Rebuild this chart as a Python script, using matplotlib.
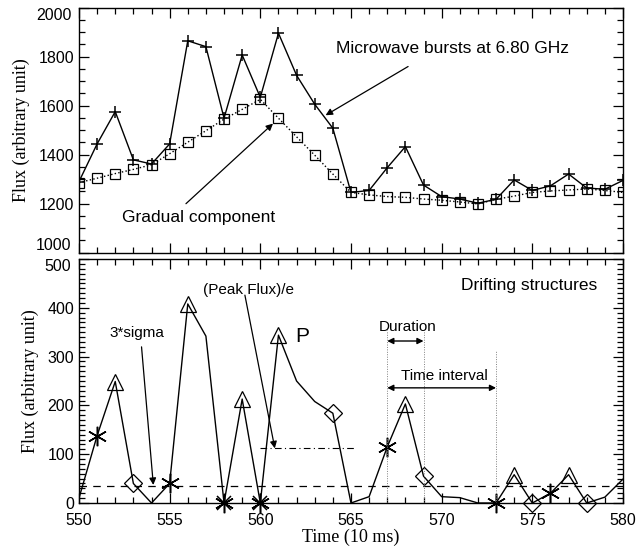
import matplotlib
matplotlib.use("Agg")
import matplotlib.pyplot as plt
from matplotlib.ticker import MultipleLocator, FuncFormatter
from matplotlib.transforms import offset_copy

# --- data ---
time = list(range(550, 581))

# top panel: microwave bursts at 6.80 GHz and the gradual component
burst = [1290, 1444, 1576, 1379, 1362, 1444, 1865, 1841, 1549, 1807,
         1634, 1896, 1724, 1606, 1508, 1246, 1254, 1347, 1433, 1276,
         1229, 1219, 1202, 1218, 1297, 1254, 1273, 1321, 1264, 1259, 1295]
gradual = [1286, 1304, 1323, 1340, 1359, 1404, 1451, 1498, 1545, 1585,
           1626, 1549, 1473, 1398, 1321, 1246, 1236, 1229, 1226, 1219,
           1214, 1207, 1199, 1218, 1231, 1246, 1252, 1256, 1260, 1254, 1246]

# bottom panel: drifting structures (burst - gradual)
drift = [10, 138, 249, 40, 0, 40, 408, 342, 0, 213,
         0, 344, 250, 208, 184, 0, 13, 115, 203, 55,
         13, 11, 0, 0, 58, 0, 20, 58, 0, 12, 49]

start_t = [551, 555, 558, 560, 567, 573, 576]
peak_t = [552, 556, 559, 561, 568, 574, 577]
end_t = [553, 564, 569, 575, 578]
double_t = [558, 560]

sigma3 = 35
peak_e = 112

val = dict(zip(time, drift))

sans = "Liberation Sans"
serif = "Liberation Serif"
plt.rcParams["font.family"] = sans

fig = plt.figure(figsize=(6.41, 5.51), dpi=100)
ax1 = fig.add_axes([0.1232, 0.5414, 0.8487, 0.4446])
ax2 = fig.add_axes([0.1232, 0.0871, 0.8487, 0.4428])

def style_axis(ax):
    ax.tick_params(which="both", direction="in", top=True, right=True,
                   labelsize=11.5, width=0.9)
    ax.tick_params(which="major", length=7)
    ax.tick_params(which="minor", length=4)
    for s in ax.spines.values():
        s.set_linewidth(1.0)

def skip_labels(skip):
    # leave the end labels blank; they are placed by hand below
    return FuncFormatter(lambda v, pos: "" if round(v) in skip else f"{v:.0f}")

def end_label(ax, y, text, va):
    tr = offset_copy(ax.transAxes, fig=fig, x=-5.5, units="points")
    ax.text(0, y, text, transform=tr, ha="right", va=va, fontsize=11.5)

# --- top panel ---
ax1.plot(time, burst, "-", color="black", lw=1.0, marker="+", ms=8, mew=1.1)
ax1.plot(time, gradual, ":", color="black", lw=1.0, marker="s", ms=7,
         mfc="none", mew=0.9)
ax1.set_xlim(550, 580)
ax1.set_ylim(1000, 2000)
ax1.xaxis.set_major_locator(MultipleLocator(5))
ax1.xaxis.set_minor_locator(MultipleLocator(1))
ax1.yaxis.set_major_locator(MultipleLocator(200))
ax1.yaxis.set_minor_locator(MultipleLocator(50))
ax1.yaxis.set_major_formatter(skip_labels({1000, 2000}))
ax1.set_xticklabels([])
style_axis(ax1)
ax1.set_ylabel("Flux (arbitrary unit)", family=serif, fontsize=13, labelpad=6)
end_label(ax1, 0, "1000", "bottom")
end_label(ax1, 1, "2000", "top")

arrow = dict(arrowstyle="-|>", color="black", lw=0.9,
             mutation_scale=10, shrinkA=0, shrinkB=0)
ax1.text(564.2, 1835, "Microwave bursts at 6.80 GHz", fontsize=12.5,
         va="center", ha="left")
ax1.annotate("", xy=(563.6, 1561), xytext=(568.15, 1760), arrowprops=arrow)
ax1.text(552.4, 1145, "Gradual component", fontsize=12.5,
         va="center", ha="left")
ax1.annotate("", xy=(560.7, 1527), xytext=(555.9, 1200), arrowprops=arrow)

# --- bottom panel ---
ax2.plot(time, drift, "-", color="black", lw=1.0)
ax2.plot(peak_t, [val[t] for t in peak_t], ls="none", marker="^", ms=12,
         mfc="none", mec="black", mew=0.9, clip_on=False)
ax2.plot(end_t, [val[t] for t in end_t], ls="none", marker="D", ms=9,
         mfc="none", mec="black", mew=0.9, clip_on=False)
ax2.plot(start_t, [val[t] for t in start_t], ls="none", marker=(6, 2, 0),
         ms=14, mec="black", mew=1.1, clip_on=False)
ax2.plot(double_t, [val[t] for t in double_t], ls="none", marker="x",
         ms=10, mec="black", mew=1.1, clip_on=False)

ax2.axhline(sigma3, color="black", lw=0.9, ls=(0, (6, 5)))
ax2.plot([560, 565.3], [peak_e, peak_e], color="black", lw=0.8,
         ls=(0, (6, 3, 1, 3)))

ax2.set_xlim(550, 580)
ax2.set_ylim(0, 500)
ax2.xaxis.set_major_locator(MultipleLocator(5))
ax2.xaxis.set_minor_locator(MultipleLocator(1))
ax2.yaxis.set_major_locator(MultipleLocator(100))
ax2.yaxis.set_minor_locator(MultipleLocator(10))
ax2.yaxis.set_major_formatter(skip_labels({500}))
style_axis(ax2)
ax2.tick_params(axis="x", pad=7)
ax2.set_ylabel("Flux (arbitrary unit)", family=serif, fontsize=13, labelpad=6)
ax2.set_xlabel("Time (10 ms)", family=serif, fontsize=13, labelpad=1)
end_label(ax2, 1, "500", "top")

ax2.text(578.6, 445, "Drifting structures", fontsize=12.5,
         va="center", ha="right")
ax2.text(551.7, 349, "3*sigma", fontsize=11, va="center", ha="left")
ax2.annotate("", xy=(554.1, 37), xytext=(553.45, 320), arrowprops=arrow)
ax2.text(556.85, 436, "(Peak Flux)/e", fontsize=11, va="center", ha="left")
ax2.annotate("", xy=(560.8, 112), xytext=(559.15, 426), arrowprops=arrow)
ax2.text(561.95, 341, "P", fontsize=15, va="center", ha="left")

# duration and time interval markers
for t, top in [(567, 355), (569, 355), (573, 313)]:
    ax2.plot([t, t], [0, top], color="gray", lw=0.7, ls=(0, (1, 1.5)))
darrow = dict(arrowstyle="<|-|>", color="black", lw=1.0,
              mutation_scale=9, shrinkA=0, shrinkB=0)
ax2.text(566.55, 360, "Duration", fontsize=11, va="center", ha="left")
ax2.annotate("", xy=(569, 332), xytext=(567, 332), arrowprops=darrow)
ax2.text(567.75, 260, "Time interval", fontsize=11, va="center", ha="left")
ax2.annotate("", xy=(573, 236), xytext=(567, 236), arrowprops=darrow)

fig.savefig("out.png", dpi=100)
